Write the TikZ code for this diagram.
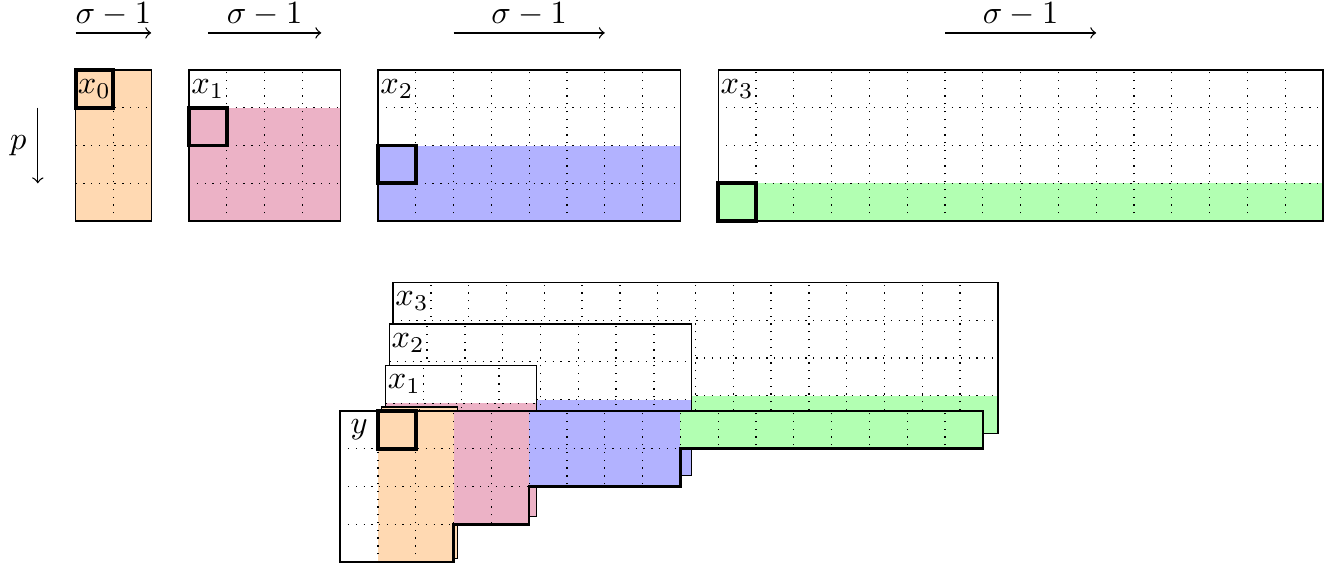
\documentclass[tikz,border=0pt]{standalone}
\tikzset{
  gridline/.style={dotted, line width=0.4pt},
  frame/.style={draw=black, line width=0.4pt},
  selcell/.style={draw=black, very thick},
  outline/.style={draw=black, thick},
  lbl/.style={inner sep=0pt},
  shiftarrow/.style={->},
  shiftlbl/.style={above=2pt, inner sep=0pt},
}
\colorlet{c0}{orange!30}
\colorlet{c1}{purple!30}
\colorlet{c2}{blue!30}
\colorlet{c3}{green!30}
% #1 X, #2 Y (bottom-left), #3 width in cells, #4 coloured rows, #5 colour, #6 label node name, #7 label
\newcommand{\panelbox}[7]{%
  \begin{scope}[shift={(#1,#2)}]
    \fill[white] (0,0) rectangle (#3,4);
    \fill[#5] (0,0) rectangle (#3,#4);
    \foreach \i in {1,...,#3} \draw[gridline] (\i,0) -- (\i,4);
    \foreach \j in {1,2,3} \draw[gridline] (0,\j) -- (#3,\j);
    \draw[frame] (0,0) rectangle (#3,4);
    \node[lbl] (#6) at (0.5,3.5) {$#7$};
  \end{scope}}
\begin{document}
\begin{tikzpicture}[x=0.41cm,y=0.41cm]
\useasboundingbox (0,0) rectangle (35.397,-14.947);

% ---------- arrows on top ----------
\coordinate (a1s) at (2,-0.87);   \coordinate (a1e) at (4,-0.87);
\coordinate (a2s) at (5.5,-0.87); \coordinate (a2e) at (8.5,-0.87);
\coordinate (a3s) at (12,-0.87);  \coordinate (a3e) at (16,-0.87);
\coordinate (a4s) at (25,-0.87);  \coordinate (a4e) at (29,-0.87);
\draw[shiftarrow] (a1s) -- node[shiftlbl] (s1) {$\sigma-1$} (a1e);
\draw[shiftarrow] (a2s) -- node[shiftlbl] (s2) {$\sigma-1$} (a2e);
\draw[shiftarrow] (a3s) -- node[shiftlbl] (s3) {$\sigma-1$} (a3e);
\draw[shiftarrow] (a4s) -- node[shiftlbl] (s4) {$\sigma-1$} (a4e);

\coordinate (ps) at (1,-2.85); \coordinate (pe) at (1,-4.85);
\draw[shiftarrow] (ps) -- node[left] (pl) {$p$} (pe);

% ---------- top row panels ----------
\panelbox{2}{-5.85}{2}{4}{c0}{tx0}{x_0}
\draw[selcell] (2,-2.85) rectangle (3,-1.85);
\panelbox{5}{-5.85}{4}{3}{c1}{tx1}{x_1}
\draw[selcell] (5,-3.85) rectangle (6,-2.85);
\panelbox{10}{-5.85}{8}{2}{c2}{tx2}{x_2}
\draw[selcell] (10,-4.85) rectangle (11,-3.85);
\panelbox{19}{-5.85}{16}{1}{c3}{tx3}{x_3}
\draw[selcell] (19,-5.85) rectangle (20,-4.85);

% ---------- bottom stacked panels ----------
\panelbox{10.4}{-11.47}{16}{1}{c3}{bx3}{x_3}
\panelbox{10.3}{-12.57}{8}{2}{c2}{bx2}{x_2}
\panelbox{10.2}{-13.67}{4}{3}{c1}{bx1}{x_1}
\panelbox{10.1}{-14.77}{2}{4}{c0}{bx0}{}

\begin{scope}[shift={(9,-14.87)}]
  \fill[white] (0,0) rectangle (1,4);
  \fill[c0] (1,0) rectangle (3,4);
  \fill[c1] (3,1) rectangle (5,4);
  \fill[c2] (5,2) rectangle (9,4);
  \fill[c3] (9,3) rectangle (17,4);
  \begin{scope}
    \clip (0,4) -- (17,4) -- (17,3) -- (9,3) -- (9,2) -- (5,2) -- (5,1) -- (3,1) -- (3,0) -- (0,0) -- cycle;
    \foreach \i in {1,...,16} \draw[gridline] (\i,0) -- (\i,4);
    \foreach \j in {1,2,3} \draw[gridline] (0,\j) -- (17,\j);
  \end{scope}
  \draw[outline] (0,4) -- (17,4) -- (17,3) -- (9,3) -- (9,2) -- (5,2) -- (5,1) -- (3,1) -- (3,0) -- (0,0) -- cycle;
  \draw[selcell] (1,3) rectangle (2,4);
  \node[lbl] (ly) at (0.5,3.5) {$y$};
\end{scope}
\end{tikzpicture}
\end{document}
